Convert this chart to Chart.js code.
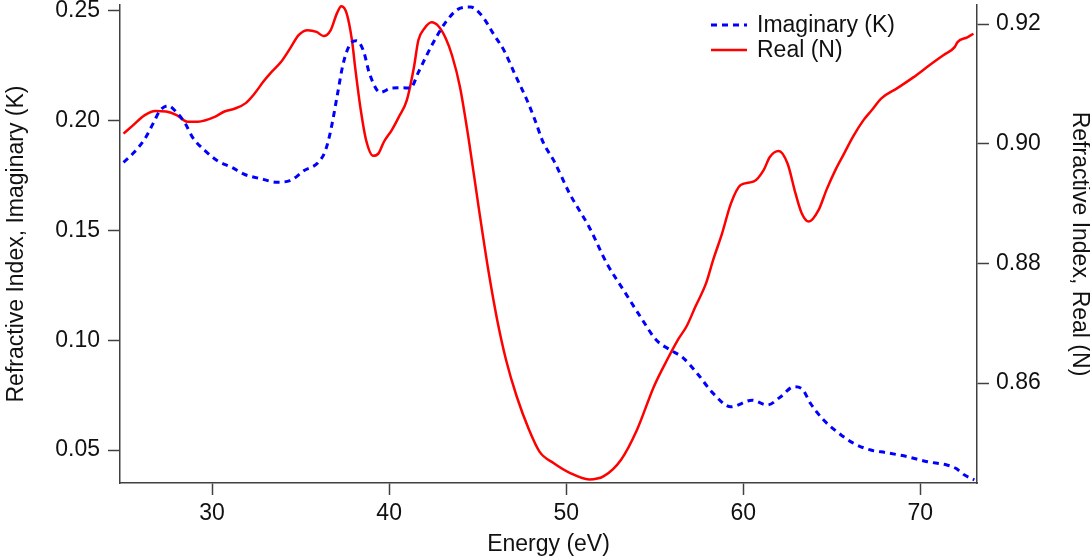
<!DOCTYPE html>
<html>
<head>
<meta charset="utf-8">
<script src="https://cdn.jsdelivr.net/npm/chart.js@4/dist/chart.umd.min.js"></script>
<style>
    body { margin: 0; background: #fff; }
    #wrap { width: 1090px; height: 558px; }
</style>
</head>
<body>
<div id="wrap"><canvas id="myChart" width="1090" height="558"></canvas></div>
<script>

// imaginary part K (left axis)
const kEnergy = [25.0, 25.6, 26.2, 26.7, 27.05, 27.5, 28.0, 28.5, 28.9, 29.6, 30.3, 31.1, 31.85, 32.8, 33.65, 34.4, 35.2, 36.0, 36.4, 36.7, 37.05, 37.4, 37.8, 38.15, 38.55, 38.9, 39.5, 40.15, 40.7, 41.2, 41.65, 42.1, 42.7, 43.25, 43.9, 44.6, 45.25, 45.9, 46.5, 47.1, 47.8, 48.25, 48.7, 49.3, 50.2, 51.3, 52.3, 53.25, 54.2, 55.1, 55.9, 56.6, 57.4, 58.3, 59.3, 60.5, 61.35, 62.1, 62.85, 63.3, 63.8, 64.5, 65.3, 66.25, 67.2, 68.1, 69.25, 70.4, 71.5, 72.0, 72.5, 73.05];
const kValues = [0.1810, 0.1856, 0.1917, 0.1992, 0.2045, 0.2068, 0.2038, 0.1985, 0.1924, 0.1864, 0.1818, 0.1788, 0.1755, 0.1735, 0.1720, 0.1727, 0.1773, 0.1810, 0.1864, 0.1955, 0.2106, 0.2258, 0.2349, 0.2364, 0.2318, 0.2212, 0.2129, 0.2149, 0.2150, 0.2149, 0.2220, 0.2295, 0.2386, 0.2455, 0.2508, 0.2518, 0.2477, 0.2394, 0.2318, 0.2212, 0.2091, 0.2000, 0.1901, 0.1818, 0.1667, 0.1515, 0.1349, 0.1227, 0.1106, 0.1000, 0.0955, 0.0920, 0.0849, 0.0758, 0.0697, 0.0727, 0.0705, 0.0742, 0.0788, 0.0780, 0.0712, 0.0640, 0.0583, 0.0530, 0.0500, 0.0488, 0.0470, 0.0447, 0.0432, 0.0417, 0.0386, 0.0364];

// real part N (right axis)
const nEnergy = [25.0, 25.5, 26.2, 26.8, 27.4, 28.0, 28.6, 29.2, 30.15, 30.7, 31.3, 31.9, 32.4, 32.9, 33.3, 33.9, 34.4, 34.9, 35.4, 35.9, 36.3, 36.7, 37.05, 37.3, 37.6, 37.9, 38.1, 38.4, 38.7, 39.1, 39.4, 39.7, 40.15, 40.55, 41.0, 41.4, 41.65, 42.0, 42.4, 42.8, 43.2, 43.55, 44.0, 44.5, 45.05, 45.6, 46.1, 46.6, 47.2, 47.9, 48.5, 49.3, 50.2, 51.3, 52.1, 53.1, 54.0, 54.95, 55.7, 56.3, 56.8, 57.3, 57.9, 58.3, 58.8, 59.3, 59.85, 60.6, 61.15, 61.5, 62.0, 62.5, 62.95, 63.3, 63.7, 64.25, 64.7, 65.2, 65.7, 66.2, 66.8, 67.25, 67.8, 68.7, 69.6, 70.55, 71.3, 71.95, 72.1, 72.65, 73.0];
const nValues = [0.9017, 0.9030, 0.9048, 0.9055, 0.9054, 0.9048, 0.9037, 0.9037, 0.9045, 0.9054, 0.9059, 0.9068, 0.9084, 0.9104, 0.9118, 0.9137, 0.9159, 0.9182, 0.9190, 0.9187, 0.9180, 0.9190, 0.9218, 0.9230, 0.9218, 0.9173, 0.9123, 0.9056, 0.9006, 0.8980, 0.8984, 0.9003, 0.9023, 0.9045, 0.9073, 0.9128, 0.9173, 0.9193, 0.9203, 0.9196, 0.9176, 0.9148, 0.9095, 0.9006, 0.8895, 0.8789, 0.8706, 0.8639, 0.8578, 0.8522, 0.8485, 0.8466, 0.8450, 0.8439, 0.8444, 0.8472, 0.8522, 0.8594, 0.8639, 0.8672, 0.8695, 0.8728, 0.8767, 0.8806, 0.8850, 0.8900, 0.8931, 0.8937, 0.8956, 0.8978, 0.8988, 0.8967, 0.8917, 0.8884, 0.8870, 0.8889, 0.8923, 0.8956, 0.8984, 0.9012, 0.9040, 0.9056, 0.9076, 0.9093, 0.9111, 0.9132, 0.9148, 0.9162, 0.9170, 0.9178, 0.9184];

const xTicks = [30, 40, 50, 60, 70];
const kTicks = [0.05, 0.10, 0.15, 0.20, 0.25];
const nTicks = [0.86, 0.88, 0.90, 0.92];

const FONT = '"Liberation Sans", Arial, Helvetica, sans-serif';
const INK = '#111';
const AXIS = '#404040';

const toPoints = (xs, ys) => xs.map((x, i) => ({ x: x, y: ys[i] }));

// legend sits inside the plot, top right
const innerLegend = {
    id: 'innerLegend',
    afterDatasetsDraw(chart) {
        const ctx = chart.ctx;
        const area = chart.chartArea;
        const x0 = area.right - 266;
        ctx.save();
        ctx.font = '23px ' + FONT;
        ctx.textBaseline = 'middle';
        chart.data.datasets.forEach((ds, i) => {
            const y = area.top + 20 + i * 25;
            ctx.strokeStyle = ds.borderColor;
            ctx.lineWidth = ds.borderWidth;
            ctx.setLineDash(ds.borderDash || []);
            ctx.beginPath();
            ctx.moveTo(x0, y);
            ctx.lineTo(x0 + 36, y);
            ctx.stroke();
            ctx.setLineDash([]);
            ctx.fillStyle = INK;
            ctx.fillText(ds.label, x0 + 46, y + 1);
        });
        ctx.restore();
    }
};

const setTicks = (list) => (scale) => {
    scale.ticks = list.map((v) => ({ value: v }));
};

// fixed box sizes, no extra room for overhanging labels
const fixSize = (prop, size) => (scale) => {
    scale[prop] = size;
    scale.paddingTop = 0;
    scale.paddingBottom = 0;
    scale.paddingLeft = 0;
    scale.paddingRight = 0;
};

var ctx = document.getElementById('myChart').getContext('2d');
var chart = new Chart(ctx, {
    type: 'line',
    data: {
        datasets: [{
            label: 'Imaginary (K)',
            data: toPoints(kEnergy, kValues),
            yAxisID: 'yK',
            borderColor: '#0000ff',
            borderWidth: 3,
            borderDash: [6, 5],
            pointRadius: 0,
            cubicInterpolationMode: 'monotone',
            fill: false
        }, {
            label: 'Real (N)',
            data: toPoints(nEnergy, nValues),
            yAxisID: 'yN',
            borderColor: '#ff0000',
            borderWidth: 2.5,
            pointRadius: 0,
            cubicInterpolationMode: 'monotone',
            fill: false
        }]
    },
    options: {
        responsive: false,
        animation: false,
        devicePixelRatio: 1,
        layout: { padding: { top: 5, left: 0, right: 0, bottom: 0 } },
        plugins: {
            legend: { display: false },
            tooltip: { enabled: false }
        },
        scales: {
            x: {
                type: 'linear',
                position: 'bottom',
                min: 24.8,
                max: 73.2,
                afterBuildTicks: setTicks(xTicks),
                afterFit: fixSize('height', 75),
                grid: { drawOnChartArea: false, drawTicks: true, tickLength: 12, tickColor: AXIS, tickWidth: 1.5 },
                border: { display: true, color: AXIS, width: 1.5 },
                ticks: { autoSkip: false, maxRotation: 0, padding: 5, color: INK, font: { family: FONT, size: 23 } },
                title: { display: true, text: 'Energy (eV)', color: INK, padding: { top: 0, bottom: 0 }, font: { family: FONT, size: 23 } }
            },
            yK: {
                type: 'linear',
                position: 'left',
                min: 0.035,
                max: 0.2527,
                afterBuildTicks: setTicks(kTicks),
                afterFit: fixSize('width', 120),
                grid: { drawOnChartArea: false, drawTicks: true, tickLength: 12, tickColor: AXIS, tickWidth: 1.5 },
                border: { display: true, color: AXIS, width: 1.5 },
                ticks: { autoSkip: false, padding: 8, color: INK, font: { family: FONT, size: 23 }, callback: (v) => v.toFixed(2) },
                title: { display: true, text: 'Refractive Index, Imaginary (K)', color: INK, padding: { top: 3, bottom: 0 }, font: { family: FONT, size: 23 } }
            },
            yN: {
                type: 'linear',
                position: 'right',
                min: 0.8433,
                max: 0.9232,
                afterBuildTicks: setTicks(nTicks),
                afterFit: fixSize('width', 113),
                grid: { drawOnChartArea: false, drawTicks: true, tickLength: 12, tickColor: AXIS, tickWidth: 1.5 },
                border: { display: true, color: AXIS, width: 1.5 },
                ticks: { autoSkip: false, padding: 7, color: INK, font: { family: FONT, size: 23 }, callback: (v) => v.toFixed(2) },
                title: { display: true, text: 'Refractive Index, Real (N)', color: INK, padding: { top: 0, bottom: 0 }, font: { family: FONT, size: 23, lineHeight: 0.9 } }
            }
        }
    },
    plugins: [innerLegend]
});

</script>
</body>
</html>
